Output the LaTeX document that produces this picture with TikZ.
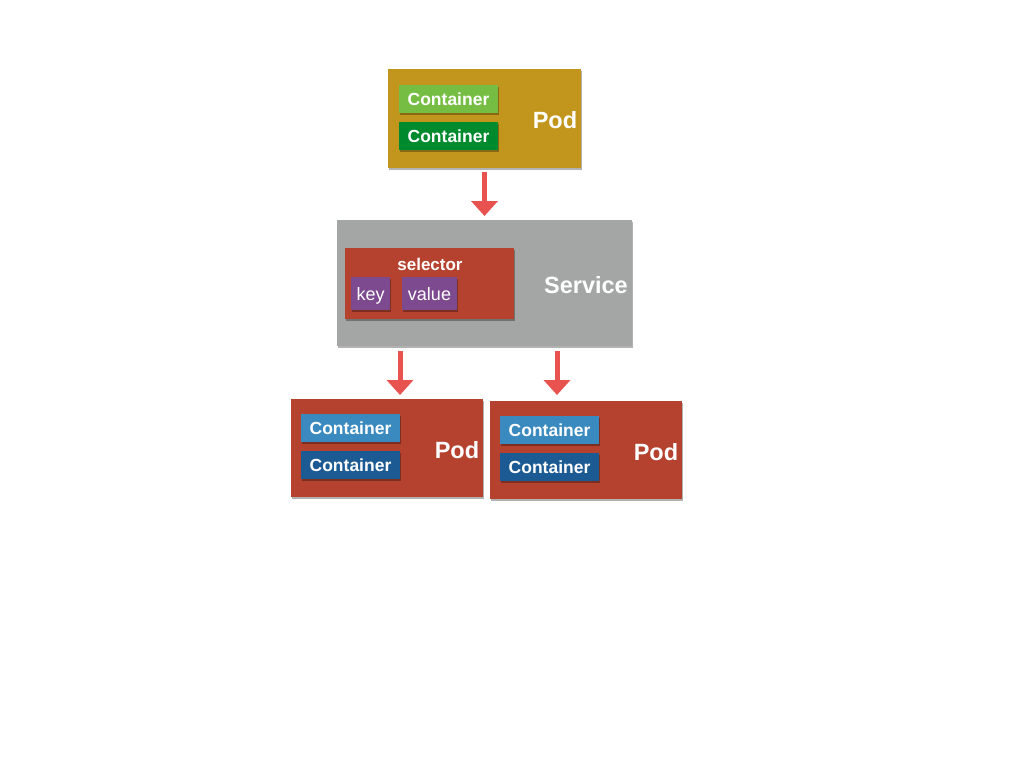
\documentclass[tikz,border=0pt]{standalone}
\usepackage{fontspec}
\setmainfont{Liberation Sans}
\usetikzlibrary{arrows.meta,shadows,calc}
\definecolor{podgold}{HTML}{C2961C}
\definecolor{lgreen}{HTML}{76BE43}
\definecolor{dgreen}{HTML}{008A2E}
\definecolor{svcgray}{HTML}{A3A6A5}
\definecolor{podred}{HTML}{B5422E}
\definecolor{lblue}{HTML}{3A8AC0}
\definecolor{dblue}{HTML}{1C5A93}
\definecolor{kvpurple}{HTML}{7D4A8F}
\definecolor{arrred}{HTML}{E8524F}
\tikzset{
  box/.style={draw=none, inner sep=0pt, outer sep=0pt,
    drop shadow={shadow xshift=1pt, shadow yshift=-1.5pt, opacity=0.3, fill=black}},
  ctr/.style={box, minimum width=99pt, minimum height=28pt, text=white,
    font=\fontsize{17.5}{18}\selectfont\bfseries},
  kv/.style={box, fill=kvpurple, minimum height=33pt, text=white, text depth=0pt,
    font=\fontsize{18}{18}\selectfont},
  biglabel/.style={text=white, inner sep=0pt, font=\fontsize{23.5}{24}\selectfont\bfseries},
  arr/.style={draw=arrred, line width=5pt, -{Triangle[width=26pt,length=15pt]}, arrred}
}
\begin{document}
\begin{tikzpicture}[x=1pt,y=-1pt]
\useasboundingbox[fill=white] (0,0) rectangle (1024,768);

% top pod
\node[box, fill=podgold, minimum width=193pt, minimum height=99pt] (tpod) at (484.5,118.5) {};
\node[ctr, fill=lgreen] (tc1) at (448.5,99) {Container};
\node[ctr, fill=dgreen] (tc2) at (448.5,136) {Container};
\node[biglabel] (tlab) at (555,120) {Pod};

% service
\node[box, fill=svcgray, minimum width=295pt, minimum height=126pt] (svc) at (484.5,283) {};
\node[box, fill=podred, minimum width=169pt, minimum height=71pt] (sel) at (429.5,283.5) {};
\node[text=white, inner sep=0pt, font=\fontsize{17}{18}\selectfont\bfseries] (sellab) at (430,264) {selector};
\node[kv, minimum width=39pt] (key) at (370.5,293.5) {key};
\node[kv, minimum width=55pt] (val) at (429.5,293.5) {value};
\node[biglabel] (slab) at (586,285) {Service};

% bottom pods
\node[box, fill=podred, minimum width=192pt, minimum height=98pt] (lpod) at (387,448) {};
\node[ctr, fill=lblue] (lc1) at (350.5,428) {Container};
\node[ctr, fill=dblue] (lc2) at (350.5,465) {Container};
\node[biglabel] (llab) at (457,450) {Pod};

\node[box, fill=podred, minimum width=192pt, minimum height=98pt] (rpod) at (586,450) {};
\node[ctr, fill=lblue] (rc1) at (549.5,430) {Container};
\node[ctr, fill=dblue] (rc2) at (549.5,467) {Container};
\node[biglabel] (rlab) at (656,452) {Pod};

% arrows
\draw[arr, shorten <=4pt, shorten >=4pt] (tpod.south) -- (svc.north);
\draw[arr, shorten <=5pt, shorten >=4pt] ([xshift=13pt]lpod.north |- svc.south) -- ([xshift=13pt]lpod.north);
\draw[arr, shorten <=5pt, shorten >=6pt] ([xshift=-29pt]rpod.north |- svc.south) -- ([xshift=-29pt]rpod.north);
\end{tikzpicture}
\end{document}
